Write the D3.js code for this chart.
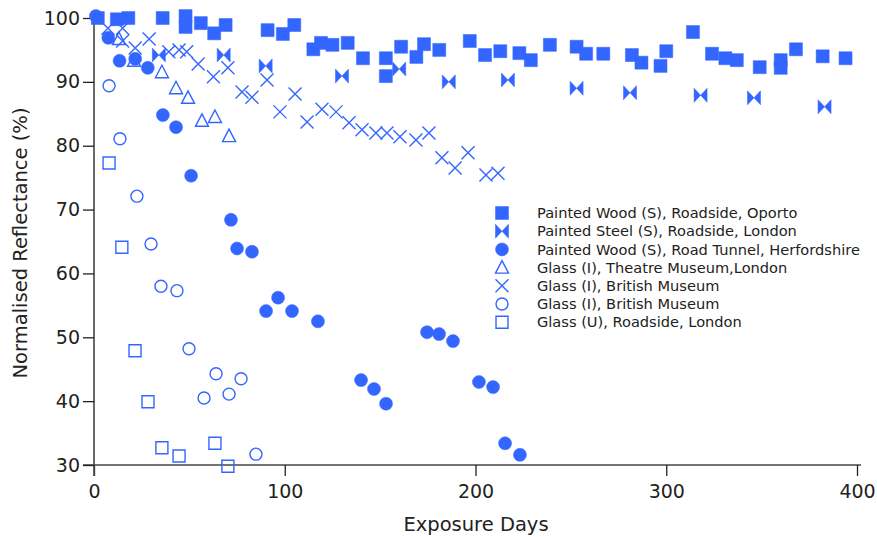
<!DOCTYPE html>
<html>
<head>
<meta charset="utf-8">
<script src="https://cdn.jsdelivr.net/npm/d3@7"></script>
<style>
  html, body { margin: 0; padding: 0; background: #fff; }
  svg { display: block; font-family: "DejaVu Sans", sans-serif; }
</style>
</head>
<body>
<svg id="chart" width="877" height="537"></svg>
<script>
// Exposure days / normalised reflectance (%) for each sample
const woodOportoDays = [2, 12, 18, 36, 48, 48, 56, 63, 69, 91, 99, 105, 115, 119, 125, 133, 141, 153, 153, 161, 169, 173, 181, 197, 205, 213, 223, 229, 239, 253, 258, 267, 282, 287, 297, 300, 314, 324, 331, 337, 349, 360, 360, 368, 382, 394];
const woodOportoVals = [100, 99.8, 100, 100, 100.3, 98.6, 99.2, 97.6, 98.9, 98.1, 97.5, 98.9, 95.1, 96.1, 95.8, 96.1, 93.7, 93.7, 90.9, 95.5, 93.9, 95.9, 95.0, 96.4, 94.2, 94.8, 94.5, 93.4, 95.8, 95.5, 94.4, 94.4, 94.2, 93.0, 92.5, 94.8, 97.8, 94.4, 93.7, 93.4, 92.3, 93.4, 92.2, 95.1, 94.0, 93.7];

const steelLondonDays = [34, 68, 90, 130, 160, 186, 217, 253, 281, 318, 346, 383];
const steelLondonVals = [94.2, 94.2, 92.5, 90.9, 92.0, 90.0, 90.3, 89.0, 88.3, 87.9, 87.5, 86.1];

const woodTunnelDays = [1, 7.5, 13.4, 21.6, 28.2, 36.1, 43, 50.9, 71.8, 75, 82.8, 90.2, 96.5, 103.8, 117.4, 140, 146.8, 153.1, 174.6, 180.9, 188.2, 201.8, 209.2, 215.5, 223.3];
const woodTunnelVals = [100.3, 96.9, 93.3, 93.6, 92.2, 84.8, 82.9, 75.3, 68.4, 63.9, 63.4, 54.1, 56.2, 54.1, 52.5, 43.3, 41.9, 39.6, 50.8, 50.5, 49.4, 43.0, 42.2, 33.4, 31.6];

const glassTheatreDays = [13.1, 21, 35.6, 43, 49.3, 56.6, 63.4, 70.8];
const glassTheatreVals = [96.7, 93.3, 91.5, 89.0, 87.5, 83.9, 84.5, 81.5];

const glassBritishXDays = [7.3, 15, 15, 21.6, 28.9, 39.2, 44.6, 48.6, 54.6, 62.6, 70.2, 77.6, 82.8, 90.7, 97.5, 105.4, 111.7, 119.5, 126.9, 133.7, 140.5, 147.8, 153.6, 160.4, 168.8, 175.6, 182.4, 189.3, 196.1, 205.5, 211.8];
const glassBritishXVals = [98.4, 98.4, 96.4, 95.3, 96.7, 94.7, 95.0, 94.7, 92.8, 90.8, 92.2, 88.4, 87.6, 90.3, 85.3, 88.1, 83.7, 85.7, 85.3, 83.6, 82.5, 82.0, 82.0, 81.4, 80.9, 82.0, 78.1, 76.5, 78.9, 75.4, 75.7];

const glassBritishODays = [7.9, 13.6, 22.5, 29.9, 35.1, 43.5, 49.8, 57.7, 64, 70.8, 77.1, 84.9];
const glassBritishOVals = [89.4, 81.1, 72.1, 64.6, 58.0, 57.3, 48.2, 40.5, 44.3, 41.1, 43.5, 31.7];

const glassRoadsideDays = [7.9, 14.6, 21.5, 28.3, 35.6, 44.6, 63.4, 70.2];
const glassRoadsideVals = [77.3, 64.1, 47.9, 39.9, 32.7, 31.4, 33.4, 29.8];

const seriesNames = [
  "Painted Wood (S), Roadside, Oporto",
  "Painted Steel (S), Roadside, London",
  "Painted Wood (S), Road Tunnel, Herfordshire",
  "Glass (I), Theatre Museum,London",
  "Glass (I), British Museum",
  "Glass (I), British Museum",
  "Glass (U), Roadside, London"
];
const seriesShapes = ["squareFilled", "bowtie", "circleFilled", "triangle", "cross", "circle", "square"];

const xTicks = [0, 100, 200, 300, 400];
const yTicks = [30, 40, 50, 60, 70, 80, 90, 100];

const color = "#3366ff";
const axisColor = "#444";

const series = [
  [woodOportoDays, woodOportoVals],
  [steelLondonDays, steelLondonVals],
  [woodTunnelDays, woodTunnelVals],
  [glassTheatreDays, glassTheatreVals],
  [glassBritishXDays, glassBritishXVals],
  [glassBritishODays, glassBritishOVals],
  [glassRoadsideDays, glassRoadsideVals]
].map((s, i) => ({
  name: seriesNames[i],
  shape: seriesShapes[i],
  points: s[0].map((d, j) => ({ x: d, y: s[1][j] }))
}));

const svg = d3.select("#chart");
const x = d3.scaleLinear().domain([0, 400]).range([94, 857]);
const y = d3.scaleLinear().domain([30, 100]).range([465, 18]);

// marker path generators, centred on the origin
function markerPath(shape) {
  const p = d3.path();
  switch (shape) {
    case "squareFilled": p.rect(-6.5, -6.5, 13, 13); break;
    case "square": p.rect(-6, -6, 12, 12); break;
    case "bowtie":
      p.moveTo(-6.5, -7); p.lineTo(0, 0); p.lineTo(6.5, -7); p.lineTo(6.5, 7);
      p.lineTo(0, 0); p.lineTo(-6.5, 7); p.closePath(); break;
    case "circleFilled": p.arc(0, 0, 6.5, 0, 2 * Math.PI); break;
    case "circle": p.arc(0, 0, 6, 0, 2 * Math.PI); break;
    case "triangle":
      p.moveTo(0, -7); p.lineTo(6.5, 5.5); p.lineTo(-6.5, 5.5); p.closePath(); break;
    case "cross":
      p.moveTo(-6.5, -6.5); p.lineTo(6.5, 6.5); p.moveTo(6.5, -6.5); p.lineTo(-6.5, 6.5); break;
  }
  return p.toString();
}
const filled = s => s === "squareFilled" || s === "bowtie" || s === "circleFilled";

function drawMarker(g, shape) {
  g.append("path")
    .attr("d", markerPath(shape))
    .attr("fill", filled(shape) ? color : "none")
    .attr("stroke", color)
    .attr("stroke-width", filled(shape) ? 0.5 : 1.4);
}

// axes
const xAxis = svg.append("g").attr("transform", "translate(0,465)")
  .call(d3.axisBottom(x).tickValues(xTicks).tickSize(11).tickPadding(9).tickSizeOuter(0));
const yAxis = svg.append("g").attr("transform", "translate(94,0)")
  .call(d3.axisLeft(y).tickValues(yTicks).tickSize(11).tickPadding(3).tickSizeOuter(0));

xAxis.select(".domain").attr("d", "M83,0H861");
yAxis.select(".domain").attr("d", "M0,14V476");
[xAxis, yAxis].forEach(a => {
  a.selectAll(".domain").attr("stroke", axisColor).attr("stroke-width", 1.6);
  a.selectAll(".tick line").attr("stroke", "#222").attr("stroke-width", 1.3);
  a.selectAll(".tick text").attr("fill", "#222").attr("font-size", 19)
    .attr("font-family", "DejaVu Sans, sans-serif");
});

// axis titles
svg.append("text").attr("x", 476).attr("y", 531).attr("text-anchor", "middle")
  .attr("font-size", 19.5).attr("fill", "#222").text("Exposure Days");
svg.append("text").attr("transform", "translate(27,243) rotate(-90)")
  .attr("text-anchor", "middle").attr("font-size", 19.5).attr("fill", "#222")
  .text("Normalised Reflectance (%)");

// data points
const plot = svg.append("g");
series.forEach(s => {
  plot.append("g").selectAll("g").data(s.points).join("g")
    .attr("transform", d => `translate(${x(d.x)},${y(d.y)})`)
    .each(function () { drawMarker(d3.select(this), s.shape); });
});

// legend
const legend = svg.append("g");
series.forEach((s, i) => {
  const row = legend.append("g").attr("transform", `translate(502,${213 + i * 18.2})`);
  drawMarker(row, s.shape);
  row.append("text").attr("x", 35).attr("y", 5.2).attr("font-size", 14.6)
    .attr("fill", "#222").text(s.name);
});
</script>
</body>
</html>
